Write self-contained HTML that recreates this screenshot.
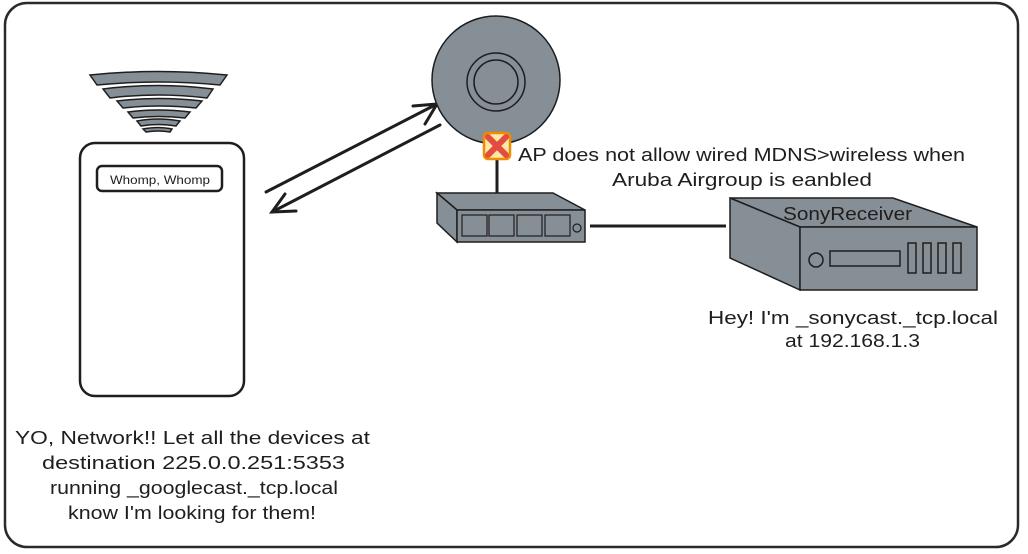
<!DOCTYPE html>
<html><head><style>
html,body{margin:0;padding:0;background:#fff;}
svg{display:block;}
text{font-family:"Liberation Sans",sans-serif;fill:#1e1e1e;}
</style></head><body>
<svg width="1028" height="554" viewBox="0 0 1028 554" xmlns="http://www.w3.org/2000/svg">
<rect x="5" y="3" width="1013" height="544" rx="22" fill="#fff" stroke="#2a2a2a" stroke-width="2.5"/>
<!-- wifi -->
<g fill="#868e96" stroke="#1e1e1e" stroke-width="1.5">
<path d="M90,75 Q158,68 227,75 L220,85 Q158,79 97,85 Z"/>
<path d="M103,89 Q158,82 213,89 L207,98 Q158,92 110,98 Z"/>
<path d="M117,101 Q158,96 202,101 L196,108 Q158,104 123,108 Z"/>
<path d="M128,112 Q158,108 190,112 L185,118 Q158,115 133,118 Z"/>
<path d="M137,121 Q158,117 180,121 L176,126 Q158,123 141,126 Z"/>
<path d="M143,129 Q158,126 172,129 L170,132 Q158,130 146,132 Z"/>
</g>
<!-- phone -->
<rect x="80" y="143" width="164" height="253" rx="15" fill="#fff" stroke="#1e1e1e" stroke-width="2.5"/>
<rect x="97" y="166" width="125" height="25" rx="5" fill="#fff" stroke="#1e1e1e" stroke-width="2.5"/>
<text x="110" y="184" font-size="12" textLength="100" lengthAdjust="spacingAndGlyphs">Whomp, Whomp</text>
<!-- arrows -->
<g stroke="#1e1e1e" stroke-width="3" fill="none" stroke-linecap="round">
<line x1="266" y1="192" x2="437" y2="104"/>
<polyline points="413,106 437,104 425,124"/>
<line x1="440" y1="125" x2="272" y2="212"/>
<polyline points="285,194 272,212 296,211"/>
</g>
<!-- AP -->
<circle cx="496" cy="80" r="64" fill="#868e96" stroke="#1e1e1e" stroke-width="1.5"/>
<circle cx="496" cy="82" r="29" fill="none" stroke="#1e1e1e" stroke-width="1.5"/>
<circle cx="496" cy="82" r="22" fill="none" stroke="#1e1e1e" stroke-width="1.5"/>
<line x1="497" y1="158" x2="497" y2="195" stroke="#1e1e1e" stroke-width="3"/>
<rect x="484" y="133" width="26" height="26" rx="4" fill="#ffe8a3" stroke="#f08c00" stroke-width="2.5"/>
<g stroke="#e03131" stroke-width="6" stroke-linecap="round" opacity="0.85">
<line x1="488" y1="137" x2="506" y2="155"/><line x1="506" y1="137" x2="488" y2="155"/>
</g>
<!-- switch -->
<g fill="#868e96" stroke="#1e1e1e" stroke-width="1.5">
<polygon points="437,193 553,193 585,210 457,210"/>
<polygon points="437,193 457,210 457,242 437,223"/>
<rect x="457" y="210" width="128" height="32"/>
</g>
<g fill="none" stroke="#1e1e1e" stroke-width="1.2">
<rect x="462" y="215" width="25" height="21"/><rect x="489" y="215" width="25" height="21"/><rect x="517" y="215" width="25" height="21"/><rect x="545" y="215" width="25" height="21"/>
<circle cx="577" cy="228" r="4"/>
</g>
<line x1="590" y1="226" x2="726" y2="226" stroke="#1e1e1e" stroke-width="3"/>
<!-- receiver -->
<g fill="#868e96" stroke="#1e1e1e" stroke-width="1.5">
<polygon points="730,198 893,198 977,227 800,227"/>
<polygon points="730,198 800,227 800,290 730,258"/>
<rect x="800" y="227" width="177" height="63"/>
</g>
<g fill="none" stroke="#1e1e1e" stroke-width="1.5">
<circle cx="816" cy="260" r="7"/>
<rect x="830" y="251" width="70" height="15"/>
<rect x="908" y="243" width="8" height="30"/><rect x="923" y="243" width="8" height="30"/><rect x="938" y="243" width="8" height="30"/><rect x="953" y="243" width="8" height="30"/>
</g>
<g font-size="18" lengthAdjust="spacingAndGlyphs">
<text x="783" y="220" textLength="129" lengthAdjust="spacingAndGlyphs">SonyReceiver</text>
<text x="518" y="161" textLength="447" lengthAdjust="spacingAndGlyphs">AP does not allow wired MDNS&gt;wireless when</text>
<text x="612" y="186" textLength="260" lengthAdjust="spacingAndGlyphs">Aruba Airgroup is eanbled</text>
<text x="708" y="324" textLength="290" lengthAdjust="spacingAndGlyphs">Hey! I'm _sonycast._tcp.local</text>
<text x="785" y="347" textLength="135" lengthAdjust="spacingAndGlyphs">at 192.168.1.3</text>
<text x="15" y="444" textLength="355" lengthAdjust="spacingAndGlyphs">YO, Network!! Let all the devices at</text>
<text x="42" y="469" textLength="303" lengthAdjust="spacingAndGlyphs">destination 225.0.0.251:5353</text>
<text x="50" y="494" textLength="288" lengthAdjust="spacingAndGlyphs">running _googlecast._tcp.local</text>
<text x="68" y="519" textLength="248" lengthAdjust="spacingAndGlyphs">know I'm looking for them!</text>
</g>
</svg>
</body></html>
